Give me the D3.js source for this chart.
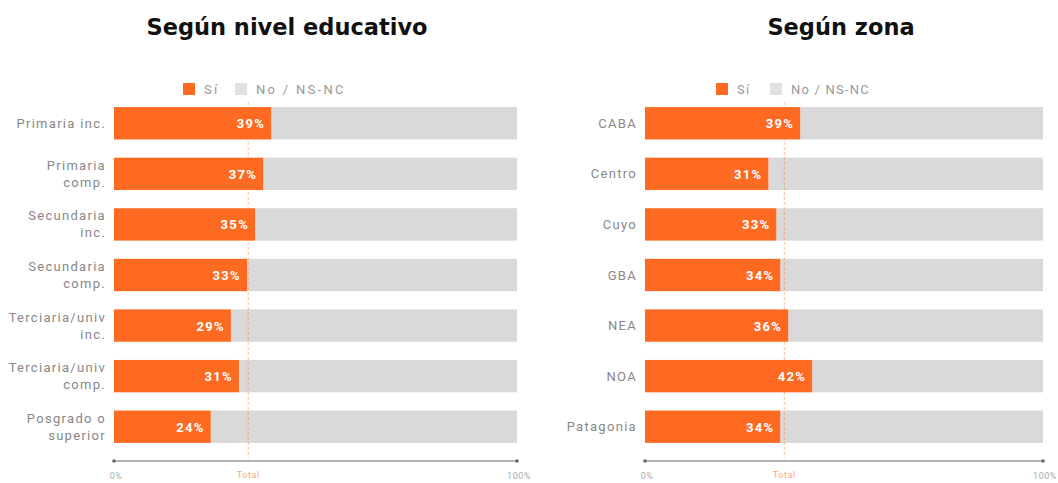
<!DOCTYPE html>
<html>
<head>
<meta charset="utf-8">
<script src="https://cdn.jsdelivr.net/npm/d3@7"></script>
<style>
  body { margin: 0; background: #fff; }
  svg { display: block; }
</style>
</head>
<body>
<div id="chart"></div>
<script>
// data
const eduCategories = ['Primaria inc.', 'Primaria\ncomp.', 'Secundaria\ninc.', 'Secundaria\ncomp.', 'Terciaria/univ\ninc.', 'Terciaria/univ\ncomp.', 'Posgrado o\nsuperior'];
const eduSi = [39, 37, 35, 33, 29, 31, 24];
const eduTotal = 33.3;

const zoneCategories = ['CABA', 'Centro', 'Cuyo', 'GBA', 'NEA', 'NOA', 'Patagonia'];
const zoneSi = [39, 31, 33, 34, 36, 42, 34];
const zoneTotal = 35;

const legendLabels = ['Sí', 'No / NS-NC'];
const axisLabels = ['0%', '100%'];
const totalLabel = 'Total';

const ORANGE = '#ff6a22';
const GREY = '#d9d9d9';
const FONT = 'Roboto, sans-serif';

const svg = d3.select('#chart').append('svg')
    .attr('width', 1058)
    .attr('height', 483);

const drawPanel = (opts) => {
    const { title, titleX, cats, vals, total, x0, x1, legendX, legendGap, legendSpacing } = opts;

    svg.append('text')
        .attr('x', titleX).attr('y', 35)
        .attr('text-anchor', 'middle')
        .style('font-family', '"DejaVu Sans", sans-serif')
        .style('font-weight', 700)
        .style('font-size', '22.5px')
        .attr('fill', '#111')
        .text(title);

    // legend
    const lg = svg.append('g').attr('transform', `translate(${legendX},89)`);
    [ORANGE, GREY].forEach((c, i) => {
        const off = i === 0 ? 0 : legendGap;
        lg.append('rect').attr('x', off).attr('y', -6).attr('width', 12).attr('height', 12)
            .attr('fill', c).attr('opacity', i === 0 ? 1 : 0.8);
        lg.append('text').attr('x', off + 21).attr('y', 5)
            .style('font-family', FONT).style('font-size', '13px')
            .style('letter-spacing', legendSpacing + 'px')
            .attr('fill', '#999').text(legendLabels[i]);
    });

    const x = d3.scaleLinear().domain([0, 100]).range([x0, x1]);
    const y = d3.scaleBand().domain(cats).range([98, 452]).paddingInner(0.36).paddingOuter(0.18);

    const g = svg.append('g');

    // background (No / NS-NC)
    g.selectAll('rect.no')
        .data(cats)
        .join('rect')
        .attr('class', 'no')
        .attr('x', (d, i) => x(vals[i]))
        .attr('y', d => y(d))
        .attr('width', (d, i) => x(100) - x(vals[i]))
        .attr('height', y.bandwidth())
        .attr('fill', GREY);

    g.selectAll('rect.si')
        .data(cats)
        .join('rect')
        .attr('class', 'si')
        .attr('x', x(0))
        .attr('y', d => y(d))
        .attr('width', (d, i) => x(vals[i]) - x(0))
        .attr('height', y.bandwidth())
        .attr('fill', ORANGE);

    // total reference line
    g.append('line')
        .attr('x1', x(total)).attr('x2', x(total))
        .attr('y1', y.range()[0] + 4).attr('y2', 458)
        .attr('stroke', ORANGE)
        .attr('stroke-width', 1)
        .attr('stroke-dasharray', '3,2')
        .attr('opacity', 0.45);

    // value labels
    g.selectAll('text.val')
        .data(cats)
        .join('text')
        .attr('class', 'val')
        .attr('x', (d, i) => x(vals[i]) - 6)
        .attr('y', d => y(d) + y.bandwidth() / 2 + 5)
        .attr('text-anchor', 'end')
        .style('font-family', FONT)
        .style('font-weight', 700)
        .style('font-size', '13px')
        .style('letter-spacing', '1.3px')
        .attr('fill', '#fff')
        .text((d, i) => vals[i] + '%');

    // category labels
    g.selectAll('text.cat')
        .data(cats)
        .join('text')
        .attr('class', 'cat')
        .attr('text-anchor', 'end')
        .style('font-family', FONT)
        .style('font-size', '13px')
        .style('letter-spacing', '1.3px')
        .attr('fill', '#888')
        .each(function (d) {
            const lines = d.split('\n');
            const cy = y(d) + y.bandwidth() / 2;
            const start = cy - (lines.length - 1) * 8.5 + 4.5;
            lines.forEach((l, k) => {
                d3.select(this).append('tspan')
                    .attr('x', x0 - 8)
                    .attr('y', start + k * 17)
                    .text(l);
            });
        });

    // axis
    const axis = svg.append('g').attr('transform', 'translate(0,461)');
    axis.append('line')
        .attr('x1', x(0)).attr('x2', x(100))
        .attr('stroke', '#666').attr('stroke-width', 1);
    axis.selectAll('circle')
        .data([0, 100])
        .join('circle')
        .attr('cx', d => x(d)).attr('r', 1.8).attr('fill', '#666');
    axis.selectAll('text.tick')
        .data([0, 100])
        .join('text')
        .attr('class', 'tick')
        .attr('x', d => x(d) + 2)
        .attr('y', 18)
        .attr('text-anchor', 'middle')
        .style('font-family', FONT)
        .style('font-size', '9px')
        .style('letter-spacing', '0.5px')
        .attr('fill', '#aaa')
        .text((d, i) => axisLabels[i]);
    axis.append('text')
        .attr('x', x(total)).attr('y', 17)
        .attr('text-anchor', 'middle')
        .style('font-family', FONT)
        .style('font-size', '9px')
        .style('letter-spacing', '0.6px')
        .attr('fill', ORANGE)
        .attr('opacity', 0.6)
        .text(totalLabel);
};

drawPanel({
    title: 'Según nivel educativo', titleX: 287,
    cats: eduCategories, vals: eduSi, total: eduTotal,
    x0: 114, x1: 517, legendX: 183, legendGap: 52, legendSpacing: 2.3
});

drawPanel({
    title: 'Según zona', titleX: 841,
    cats: zoneCategories, vals: zoneSi, total: zoneTotal,
    x0: 645, x1: 1043, legendX: 716, legendGap: 54, legendSpacing: 1.2
});
</script>
</body>
</html>
